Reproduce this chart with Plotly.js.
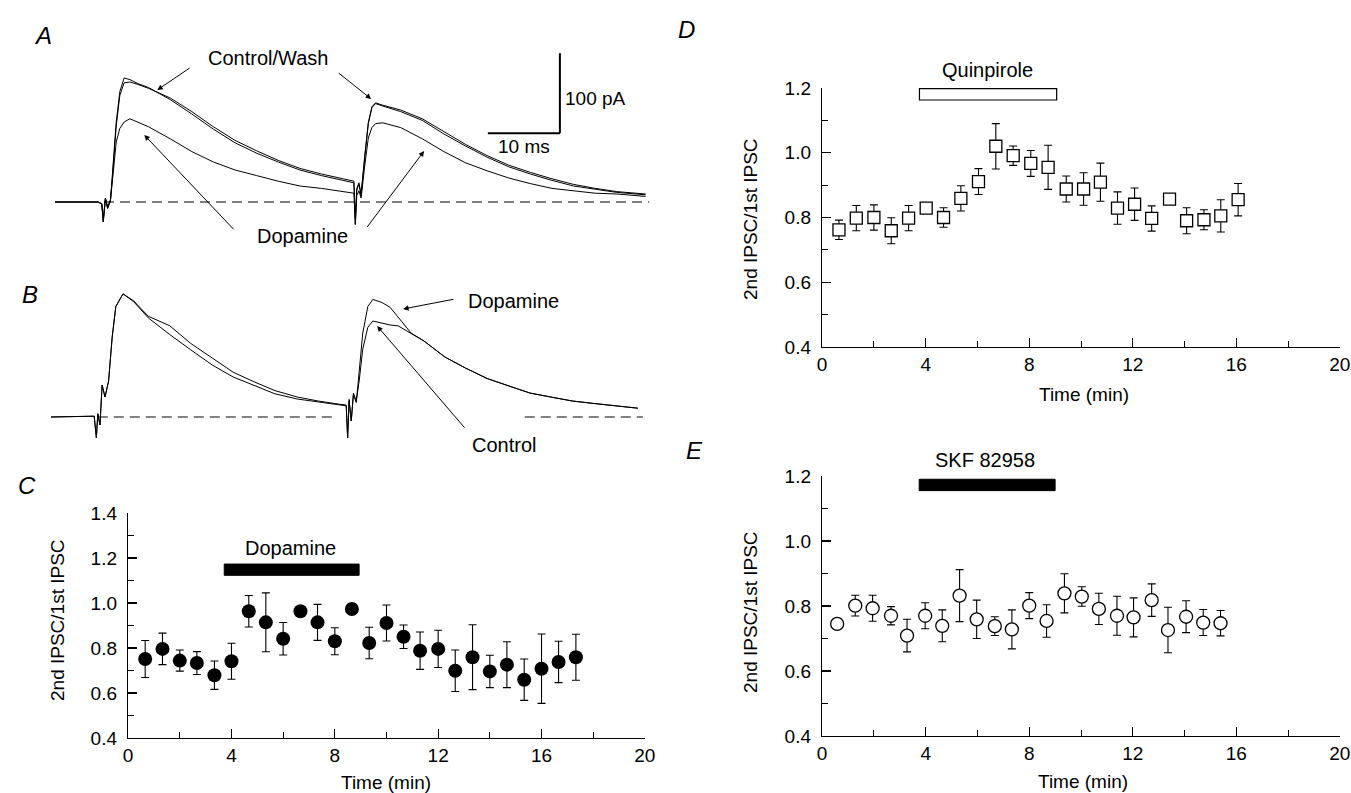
<!DOCTYPE html>
<html>
<head>
<meta charset="utf-8">
<script src="https://cdn.plot.ly/plotly-3.0.1.min.js"></script>
<style>html,body{margin:0;padding:0;background:#fff}#chart{width:1351px;height:793px}</style>
</head>
<body>
<div id="chart"></div>
<script>
// ---------- Panel A traces (time in ms, current in pA) ----------
const tA = [0, 6, 6.5, 6.7, 7, 7.3, 7.7, 8, 8.5, 9, 9.6, 10.4, 11.5, 13, 16, 19, 22, 25, 28, 31, 34, 37, 40, 41.5, 41.7, 41.9, 42.2, 42.5, 43, 43.5, 44, 44.5, 45.5, 48, 51, 54, 57, 60, 63, 66, 69, 72, 75, 78, 82];
const controlA = [0, 0, -3, -25, 5, -8, 2, 35, 100, 138, 155, 153, 148, 143, 128, 110, 91, 74, 61, 50, 40, 33, 27, 24, -28, 15, 22, 8, 55, 98, 118, 123, 120, 113, 102, 85, 70, 56, 44, 35, 27, 20, 16, 12, 9];
const washA = [0, 0, -2, -22, 4, -6, 3, 33, 95, 133, 149, 150, 147, 142, 130, 113, 94, 77, 64, 52, 42, 35, 29, 26, -20, 17, 24, 10, 57, 99, 119, 124, 121, 115, 104, 88, 72, 58, 46, 37, 29, 22, 17, 13, 10];
const dopamineA = [0, 0, -3, -25, 5, -8, 2, 30, 75, 92, 100, 104, 100, 94, 79, 63, 50, 40, 33, 26, 20, 17, 13, 11, -28, 8, 14, 5, 45, 80, 93, 98, 99, 93, 79, 63, 49, 39, 30, 23, 17, 14, 11, 10, 7];
const baselineA = [6.8, 82.5];

// ---------- Panel B traces ----------
const tB = [0, 6, 6.3, 6.5, 6.8, 7.1, 7.5, 8, 8.5, 9, 10, 11.5, 13.5, 16.5, 19.4, 22.4, 25.3, 28.2, 31.1, 34.2, 37.1, 40, 41, 41.2, 41.4, 41.7, 42, 42.4, 42.8, 43.3, 44, 44.7, 46, 47.1, 48.2, 50, 51.8, 54.7, 57.6, 60.6, 63.5, 66.5, 69.4, 72.4, 75.3, 78.2, 81.5];
const controlB = [0, 1, -26, 4, -10, 40, 25, 45, 100, 138, 154, 145, 126, 114, 92, 74, 56, 44, 33, 25, 20, 16, 15, -26, 22, -5, 30, 20, 45, 85, 112, 120, 117, 115, 114, 105, 95, 75, 61, 48, 39, 30, 25, 20, 17, 14, 11];
const dopamineB = [0, 1, -26, 4, -10, 40, 25, 45, 100, 138, 154, 144, 124, 103, 84, 65, 50, 39, 29, 22.5, 19, 15, 14, -26, 20, -5, 28, 18, 55, 105, 138, 147, 143, 137, 125, 105, 95, 75, 61, 48, 39, 30, 25, 20, 17, 14, 11];
const baselineB1 = [6.5, 39.5];
const baselineB2 = [65.8, 82.2];

// scale bar (A)
const scaleMs = 10, scalePA = 100, scaleX0 = 60.1, scaleY0 = 86;

// ---------- Panel C: dopamine ----------
const timeC = [0.66, 1.33, 2.0, 2.66, 3.34, 4.0, 4.67, 5.33, 6.0, 6.67, 7.33, 8.0, 8.66, 9.33, 10.0, 10.66, 11.3, 12.0, 12.66, 13.33, 14.0, 14.66, 15.33, 16.0, 16.66, 17.33];
const ratioC = [0.751, 0.796, 0.744, 0.733, 0.679, 0.741, 0.963, 0.914, 0.841, 0.963, 0.914, 0.830, 0.973, 0.822, 0.911, 0.850, 0.788, 0.796, 0.699, 0.759, 0.696, 0.726, 0.659, 0.708, 0.738, 0.759];
const semC = [0.082, 0.07, 0.047, 0.051, 0.063, 0.08, 0.07, 0.131, 0.072, 0.012, 0.08, 0.06, 0.018, 0.07, 0.08, 0.052, 0.083, 0.083, 0.092, 0.144, 0.072, 0.102, 0.092, 0.154, 0.092, 0.102];
const barC = [3.72, 8.94];

// ---------- Panel D: quinpirole ----------
const timeD = [0.65, 1.32, 2.0, 2.67, 3.34, 4.02, 4.69, 5.36, 6.04, 6.71, 7.38, 8.06, 8.73, 9.43, 10.1, 10.75, 11.41, 12.07, 12.73, 13.42, 14.08, 14.75, 15.4, 16.07];
const ratioD = [0.762, 0.798, 0.80, 0.759, 0.798, 0.829, 0.80, 0.859, 0.911, 1.02, 0.991, 0.967, 0.955, 0.888, 0.888, 0.909, 0.829, 0.841, 0.797, 0.857, 0.79, 0.793, 0.805, 0.855];
const semD = [0.03, 0.039, 0.039, 0.04, 0.039, 0.008, 0.03, 0.039, 0.04, 0.07, 0.03, 0.04, 0.068, 0.04, 0.05, 0.059, 0.05, 0.05, 0.039, 0.008, 0.04, 0.031, 0.05, 0.05];
const barD = [3.76, 9.06];

// ---------- Panel E: SKF 82958 ----------
const timeE = [0.58, 1.28, 1.95, 2.66, 3.28, 3.98, 4.64, 5.31, 5.97, 6.67, 7.33, 8.0, 8.67, 9.36, 10.03, 10.69, 11.39, 12.03, 12.73, 13.36, 14.06, 14.72, 15.39];
const ratioE = [0.745, 0.801, 0.793, 0.770, 0.709, 0.770, 0.739, 0.832, 0.759, 0.738, 0.728, 0.801, 0.754, 0.839, 0.829, 0.791, 0.770, 0.765, 0.818, 0.726, 0.767, 0.749, 0.747];
const semE = [0.01, 0.032, 0.04, 0.028, 0.05, 0.04, 0.049, 0.08, 0.059, 0.029, 0.06, 0.04, 0.05, 0.06, 0.03, 0.048, 0.06, 0.06, 0.05, 0.07, 0.049, 0.04, 0.039];
const barE = [3.75, 9.0];

const xTicks = [0, 4, 8, 12, 16, 20];
const yTitle = '2nd IPSC/1st IPSC';
const xTitle = 'Time (min)';

// ---------- layout helpers ----------
const W = 1351, H = 793;
const fx = p => p / W;
const fy = p => 1 - p / H;
const FONT = 'Liberation Sans, Arial, Helvetica, sans-serif';

const traceLine = {color: 'black', width: 1};
const data = [];
function tr(x, y, ax, extra) {
  return Object.assign({x: x, y: y, xaxis: 'x' + ax, yaxis: 'y' + ax, mode: 'lines', line: traceLine, hoverinfo: 'skip', showlegend: false}, extra || {});
}
const dashLine = {color: 'black', width: 1, dash: '10px,6px'};
// A
data.push(tr(baselineA, [0, 0], '', {line: dashLine}));
data.push(tr(tA, controlA, ''));
data.push(tr(tA, washA, ''));
data.push(tr(tA, dopamineA, ''));
// B
data.push(tr(baselineB1, [0, 0], '2', {line: dashLine}));
data.push(tr(baselineB2, [0, 0], '2', {line: dashLine}));
data.push(tr(tB, controlB, '2'));
data.push(tr(tB, dopamineB, '2'));
// C, D, E
const eb = s => ({type: 'data', array: s, color: 'black', thickness: 1.1, width: 4});
data.push({x: timeC, y: ratioC, xaxis: 'x3', yaxis: 'y3', mode: 'markers', showlegend: false,
  marker: {symbol: 'circle', size: 14, color: 'black'}, error_y: eb(semC)});
data.push({x: timeD, y: ratioD, xaxis: 'x4', yaxis: 'y4', mode: 'markers', showlegend: false,
  marker: {symbol: 'square', size: 12, color: 'white', line: {color: 'black', width: 1.3}}, error_y: eb(semD)});
data.push({x: timeE, y: ratioE, xaxis: 'x5', yaxis: 'y5', mode: 'markers', showlegend: false,
  marker: {symbol: 'circle', size: 13, color: 'white', line: {color: 'black', width: 1.3}}, error_y: eb(semE)});

const hidden = (dom, rng) => ({domain: dom, range: rng, visible: false, fixedrange: true});
const tickFont = {family: FONT, size: 19, color: 'black'};
function xAx(dom, anchor) {
  return {domain: dom, anchor: anchor, range: [-0.005, 20.005], showline: true, linecolor: 'black', linewidth: 1.2,
    ticks: 'inside', ticklen: 9, tickwidth: 1.2, tickcolor: 'black', tickmode: 'array', tickvals: xTicks,
    showgrid: false, zeroline: false, tickfont: tickFont, ticklabelstandoff: 0, ticklabeloverflow: 'allow',
    minor: {ticks: 'inside', ticklen: 6, tickwidth: 1, tickcolor: 'black', dtick: 2, tick0: 0, showgrid: false}};
}
function yAx(dom, anchor, top) {
  return {domain: dom, anchor: anchor, range: [0.4, top], showline: true, linecolor: 'black', linewidth: 1.2,
    ticks: 'inside', ticklen: 9, tickwidth: 1.2, tickcolor: 'black', tickmode: 'linear', tick0: 0.4, dtick: 0.2,
    tickformat: '.1f', showgrid: false, zeroline: false, tickfont: tickFont, ticklabelstandoff: 6,
    minor: {ticks: 'inside', ticklen: 6, tickwidth: 1, tickcolor: 'black', dtick: 0.1, tick0: 0.4, showgrid: false}};
}

const layout = {
  width: W, height: H, margin: {l: 0, r: 0, t: 0, b: 0}, paper_bgcolor: 'white', plot_bgcolor: 'rgba(0,0,0,0)',
  font: {family: FONT, color: 'black'}, showlegend: false,
  xaxis: hidden([fx(55), fx(660)], [0, 84]),
  yaxis: hidden([fy(240), fy(40)], [-47.5, 202.5]),
  xaxis2: hidden([fx(51), fx(660)], [0, 84.58]),
  yaxis2: hidden([fy(460), fy(270)], [-53.75, 183.75]),
  xaxis3: xAx([fx(128), fx(645)], 'y3'),
  yaxis3: yAx([fy(738), fy(513)], 'x3', 1.4),
  xaxis4: xAx([fx(822), fx(1340)], 'y4'),
  yaxis4: yAx([fy(347), fy(88)], 'x4', 1.2),
  xaxis5: xAx([fx(822), fx(1340)], 'y5'),
  yaxis5: yAx([fy(736), fy(476)], 'x5', 1.2),
  shapes: [
    {type: 'line', xref: 'x', yref: 'y', x0: scaleX0, x1: scaleX0 + scaleMs, y0: scaleY0, y1: scaleY0, line: {color: 'black', width: 2}},
    {type: 'line', xref: 'x', yref: 'y', x0: scaleX0 + scaleMs, x1: scaleX0 + scaleMs, y0: scaleY0, y1: scaleY0 + scalePA, line: {color: 'black', width: 2}},
    {type: 'rect', xref: 'x3', yref: 'y3', x0: barC[0], x1: barC[1], y0: 1.123, y1: 1.173, fillcolor: 'black', line: {color: 'black', width: 1}},
    {type: 'rect', xref: 'x4', yref: 'y4', x0: barD[0], x1: barD[1], y0: 1.163, y1: 1.198, fillcolor: 'white', line: {color: 'black', width: 1.2}},
    {type: 'rect', xref: 'x5', yref: 'y5', x0: barE[0], x1: barE[1], y0: 1.155, y1: 1.19, fillcolor: 'black', line: {color: 'black', width: 1}}
  ],
  annotations: []
};

const A = layout.annotations;
function txt(x, y, text, xref, yref, opts) {
  A.push(Object.assign({x: x, y: y, xref: xref, yref: yref, text: text, showarrow: false,
    font: {family: FONT, size: 19, color: 'black'}, xanchor: 'center', yanchor: 'middle'}, opts || {}));
}
function arrow(hx, hy, tx, ty, xr, yr) {
  A.push({x: hx, y: hy, ax: tx, ay: ty, xref: xr, yref: yr, axref: xr, ayref: yr, text: '', showarrow: true,
    arrowhead: 2, arrowsize: 1.1, arrowwidth: 1, arrowcolor: 'black'});
}
const labFont = {family: FONT, size: 20, color: 'black'};
// panel letters
const letterFont = {family: FONT, size: 24, color: 'black'};
[['A', 43, 36], ['B', 30, 294], ['C', 27, 485], ['D', 686, 30], ['E', 694, 450]].forEach(l =>
  txt(fx(l[1]), fy(l[2]), '<i>' + l[0] + '</i>', 'paper', 'paper', {font: letterFont}));
// A labels
txt(29.6, 180, 'Control/Wash', 'x', 'y', {font: labFont});
txt(34.4, -42.5, 'Dopamine', 'x', 'y', {font: labFont});
txt(70.6, 129, '100 pA', 'x', 'y', {xanchor: 'left'});
txt(65.1, 69, '10 ms', 'x', 'y');
arrow(14.2, 140, 18.9, 168.75, 'x', 'y');
arrow(43.9, 128.75, 39.2, 162.5, 'x', 'y');
arrow(12.4, 83.75, 25, -36, 'x', 'y');
arrow(51.25, 63.75, 43.2, -33, 'x', 'y');
// B labels
txt(64.2, 145, 'Dopamine', 'x2', 'y2', {font: labFont});
txt(62.9, -35, 'Control', 'x2', 'y2', {font: labFont});
arrow(48.9, 135, 56.1, 147.5, 'x2', 'y2');
arrow(45.3, 113.75, 57.6, -15, 'x2', 'y2');
// bar labels (paper position above each bar)
txt(fx(290), fy(548), 'Dopamine', 'paper', 'paper', {font: labFont});
txt(fx(987), fy(70), 'Quinpirole', 'paper', 'paper', {font: labFont});
txt(fx(985), fy(460), 'SKF 82958', 'paper', 'paper', {font: labFont});
// axis titles
[[57, 620], [750, 219], [750, 612]].forEach(p =>
  txt(fx(p[0]), fy(p[1]), yTitle, 'paper', 'paper', {textangle: -90}));
[[386, 782], [1084, 394], [1083, 781]].forEach(p =>
  txt(fx(p[0]), fy(p[1]), xTitle, 'paper', 'paper'));

Plotly.newPlot('chart', data, layout, {staticPlot: true, displayModeBar: false});
</script>
</body>
</html>
